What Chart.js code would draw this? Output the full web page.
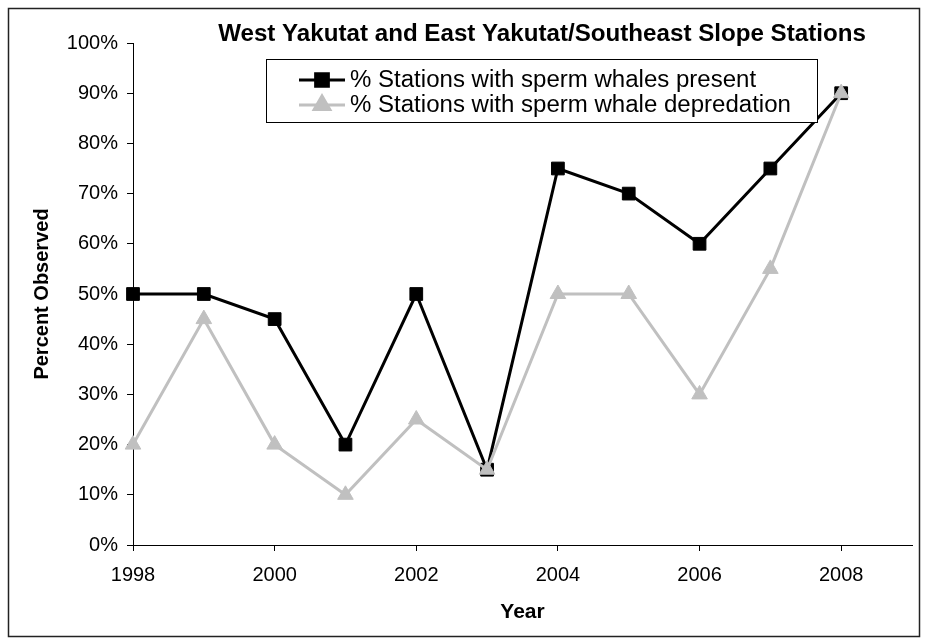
<!DOCTYPE html>
<html>
<head>
<meta charset="utf-8">
<script src="https://cdn.jsdelivr.net/npm/chart.js@4.4.0/dist/chart.umd.min.js"></script>
<style>
  html, body { margin: 0; padding: 0; background: #fff; }
  canvas { display: block; }
</style>
</head>
<body>
<canvas id="chart" width="928" height="644"></canvas>
<script>
// 데이터
const years = [1998, 1999, 2000, 2001, 2002, 2003, 2004, 2005, 2006, 2007, 2008];
const presentPct = [50, 50, 45, 20, 50, 15, 75, 70, 60, 75, 90];
const depredationPct = [20, 45, 20, 10, 25, 15, 50, 50, 30, 55, 90];

const chartTitle = "West Yakutat and East Yakutat/Southeast Slope Stations";
const presentLabel = "% Stations with sperm whales present";
const depredationLabel = "% Stations with sperm whale depredation";

const FONT = "'Liberation Sans', Arial, sans-serif";

// 가로로 약간 늘린 텍스트 (원본 엑셀 그림이 가로로 늘어나 있음)
function wideText(ctx, text, x, y, sx) {
    ctx.save();
    ctx.translate(x, y);
    ctx.scale(sx, 1);
    ctx.fillText(text, 0, 0);
    ctx.restore();
}

// 외곽 테두리 + 제목 + 범례 (엑셀 스타일, 플롯 안쪽)
const excelDecor = {
    id: "excelDecor",
    beforeDraw(chart) {
        const ctx = chart.ctx;
        ctx.save();
        ctx.fillStyle = "#fff";
        ctx.fillRect(0, 0, chart.width, chart.height);
        ctx.restore();
    },
    afterDraw(chart) {
        const ctx = chart.ctx;
        ctx.save();
        // outer frame
        ctx.strokeStyle = "#222";
        ctx.lineWidth = 1.5;
        ctx.strokeRect(8.5, 8.5, 911, 628);

        // title
        ctx.fillStyle = "#000";
        ctx.font = "bold 23px " + FONT;
        ctx.textAlign = "center";
        ctx.textBaseline = "middle";
        wideText(ctx, chartTitle, 542, 35, 1.05);

        // legend box
        ctx.fillStyle = "#fff";
        ctx.fillRect(266, 59, 551, 63);
        ctx.strokeStyle = "#000";
        ctx.lineWidth = 1;
        ctx.strokeRect(266.5, 59.5, 551, 63);

        const rows = [
            { ds: chart.data.datasets[1], y: 80 },
            { ds: chart.data.datasets[0], y: 105 }
        ];
        rows.forEach(r => {
            ctx.strokeStyle = r.ds.borderColor;
            ctx.lineWidth = r.ds.borderWidth;
            ctx.beginPath();
            ctx.moveTo(299, r.y);
            ctx.lineTo(345, r.y);
            ctx.stroke();
            ctx.fillStyle = r.ds.pointBackgroundColor;
            ctx.strokeStyle = r.ds.pointBorderColor;
            Chart.helpers.drawPoint(ctx, {
                pointStyle: r.ds.pointStyle,
                radius: r.ds.pointRadius,
                rotation: 0,
                borderWidth: 1
            }, 322, r.y);
            ctx.fillStyle = "#000";
            ctx.font = "23px " + FONT;
            ctx.textAlign = "left";
            ctx.textBaseline = "middle";
            wideText(ctx, r.ds.label, 350, r.y + 1, 1.045);
        });
        ctx.restore();
    }
};

new Chart(document.getElementById("chart"), {
    type: "line",
    data: {
        datasets: [
            {
                label: depredationLabel,
                data: years.map((y, i) => ({ x: y, y: depredationPct[i] })),
                borderColor: "#c0c0c0",
                borderWidth: 3,
                pointStyle: "triangle",
                pointRadius: 9,
                pointBackgroundColor: "#c0c0c0",
                pointBorderColor: "#c0c0c0",
                pointBorderWidth: 1,
                tension: 0,
                clip: false,
                order: 0
            },
            {
                label: presentLabel,
                data: years.map((y, i) => ({ x: y, y: presentPct[i] })),
                borderColor: "#000",
                borderWidth: 3,
                pointStyle: "rect",
                pointRadius: 9,
                pointBackgroundColor: "#000",
                pointBorderColor: "#000",
                pointBorderWidth: 1,
                tension: 0,
                clip: false,
                order: 1
            }
        ]
    },
    options: {
        responsive: false,
        animation: false,
        devicePixelRatio: 1,
        layout: { padding: { top: 43, right: 16, bottom: 0, left: 0 } },
        plugins: {
            legend: { display: false },
            title: { display: false },
            tooltip: { enabled: false }
        },
        scales: {
            x: {
                type: "linear",
                min: 1998,
                max: 2009,
                grid: { drawOnChartArea: false, drawTicks: true, tickLength: 6, color: "#000" },
                border: { display: true, color: "#000", width: 1 },
                ticks: {
                    stepSize: 2,
                    includeBounds: false,
                    padding: 12,
                    color: "#000",
                    font: { family: FONT, size: 20 },
                    callback: v => String(v)
                },
                title: {
                    display: true,
                    text: "Year",
                    color: "#000",
                    font: { family: FONT, size: 21, weight: "bold" },
                    padding: { top: 0, bottom: 19 }
                },
                afterFit: s => { s.height = 99; }
            },
            y: {
                min: 0,
                max: 100,
                grid: { drawOnChartArea: false, drawTicks: true, tickLength: 6, color: "#000" },
                border: { display: true, color: "#000", width: 1 },
                ticks: {
                    stepSize: 10,
                    padding: 9,
                    color: "#000",
                    font: { family: FONT, size: 20 },
                    callback: v => v + "%"
                },
                title: {
                    display: true,
                    text: "Percent Observed",
                    color: "#000",
                    font: { family: FONT, size: 20, weight: "bold" },
                    padding: { top: 30, bottom: 0 }
                },
                afterFit: s => { s.width = 133; }
            }
        }
    },
    plugins: [excelDecor]
});
</script>
</body>
</html>
